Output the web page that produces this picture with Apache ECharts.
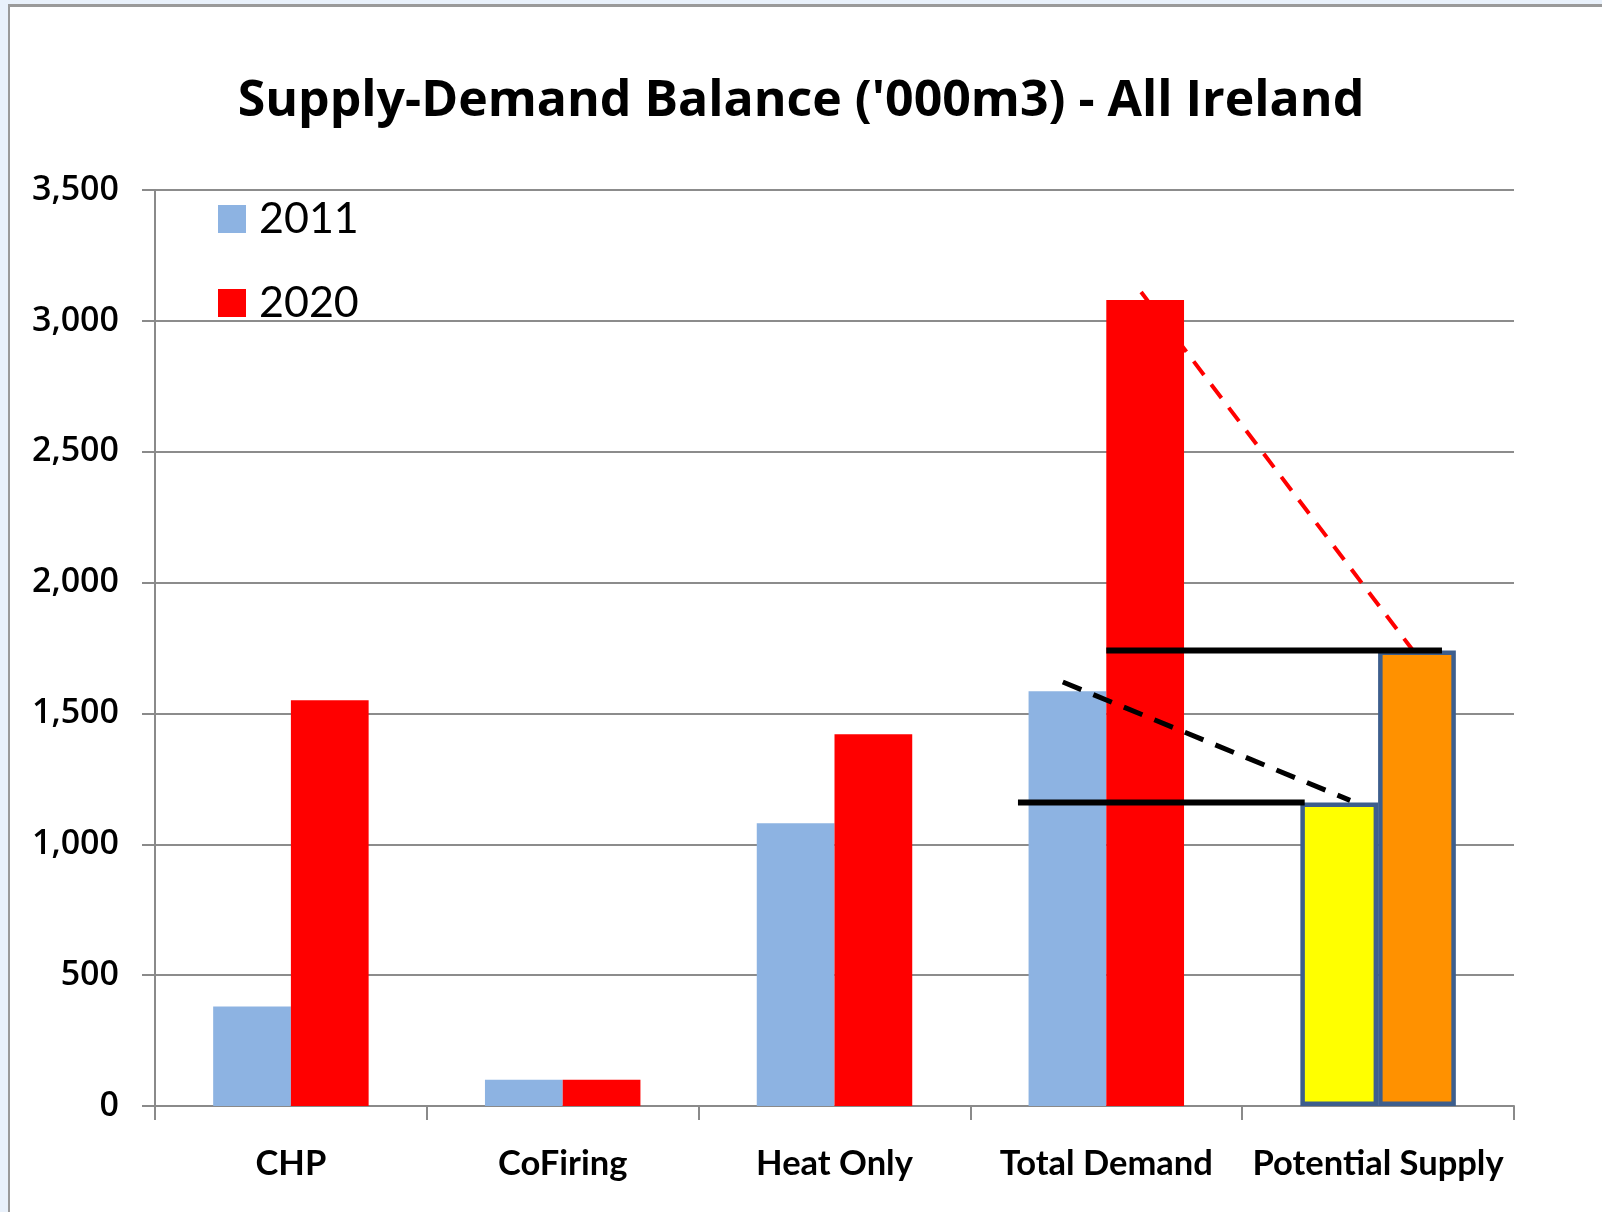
<!DOCTYPE html>
<html>
<head>
<meta charset="utf-8">
<script src="https://cdn.jsdelivr.net/npm/echarts@6/dist/echarts.min.js"></script>
<style>
  html, body { margin: 0; padding: 0; width: 1602px; height: 1212px; background: #E9F1FB; overflow: hidden; }
  #frame { position: absolute; left: 8px; top: 4px; right: 0; bottom: 0; background: #ffffff;
           border-left: 2px solid #9a9a9a; border-top: 3px solid #9a9a9a; }
  #chart { position: absolute; left: 0; top: 0; width: 1602px; height: 1212px; }
</style>
</head>
<body>
<div id="frame"></div>
<div id="chart"></div>
<script>
// ---- data ----
const categories = ['CHP', 'CoFiring', 'Heat Only', 'Total Demand', 'Potential Supply'];
const values2011 = [380, 100, 1080, 1585, 1160];
const values2020 = [1550, 100, 1420, 3080, 1740];
const seriesNames = ['2011', '2020'];
const yMin = 0, yMax = 3500, yStep = 500;

// annotation lines, in [category position, value] (category index units)
const supplyLowLine  = [[2.675, 1160], [3.73, 1160]];
const supplyHighLine = [[3.0, 1740], [4.235, 1740]];
const redTrend       = [[3.128, 3110], [4.125, 1745]];
const blackTrend     = [[2.84, 1620], [3.897, 1168]];

const FONT = 'Lato, "Open Sans", sans-serif';
const TITLE_FONT = '"Open Sans", Lato, sans-serif';
const supplyIndex = categories.indexOf('Potential Supply');
const supplyBorder = { borderColor: '#3D5E8D', borderWidth: 4.5 };

function buildBars(vals, supplyColor) {
  return vals.map((v, i) => i === supplyIndex
    ? { value: v, itemStyle: Object.assign({ color: supplyColor }, supplyBorder) }
    : v);
}

const chart = echarts.init(document.getElementById('chart'), null, { renderer: 'canvas' });
chart.setOption({
  backgroundColor: 'transparent',
  animation: false,
  title: {
    text: "Supply-Demand Balance ('000m3) - All Ireland",
    left: 'center', top: 72,
    textStyle: { fontFamily: TITLE_FONT, fontWeight: 'bold', fontSize: 50, color: '#000' }
  },
  legend: {
    orient: 'vertical', left: 213, top: 189,
    itemWidth: 28, itemHeight: 28, itemGap: 34,
    icon: 'rect',
    data: seriesNames,
    textStyle: { fontFamily: FONT, fontSize: 43, color: '#000', lineHeight: 50, padding: [0, 0, 0, 8] }
  },
  grid: { left: 155, right: 88, top: 190, bottom: 106, containLabel: false },
  xAxis: [{
    type: 'category', data: categories,
    axisLine: { lineStyle: { color: '#8a8a8a', width: 2 } },
    axisTick: { show: true, length: 14, lineStyle: { color: '#8a8a8a', width: 2 } },
    axisLabel: { interval: 0, fontFamily: FONT, fontWeight: 'bold', fontSize: 34.5, color: '#000', margin: 40 }
  }, {
    type: 'value', min: -0.5, max: 4.5, show: false
  }],
  yAxis: {
    type: 'value', min: yMin, max: yMax, interval: yStep,
    axisLine: { show: true, onZero: false, lineStyle: { color: '#8a8a8a', width: 2 } },
    axisTick: { show: true, length: 13, lineStyle: { color: '#8a8a8a', width: 2 } },
    splitLine: { lineStyle: { color: '#8c8c8c', width: 2 } },
    axisLabel: { fontFamily: TITLE_FONT, fontWeight: 600, fontSize: 34, color: '#000', margin: 36 }
  },
  series: [
    { name: seriesNames[0], type: 'bar', xAxisIndex: 0, barWidth: '28.6%', barGap: '0%',
      itemStyle: { color: '#8DB3E2' }, data: buildBars(values2011, '#FFFF00'), z: 2 },
    { name: seriesNames[1], type: 'bar', xAxisIndex: 0, barWidth: '28.6%', barGap: '0%',
      itemStyle: { color: '#FF0000' }, data: buildBars(values2020, '#FF9100'), z: 2 },
    { type: 'line', xAxisIndex: 1, symbol: 'none', data: redTrend, z: 3,
      lineStyle: { color: '#FF0000', width: 4, type: [17, 12] } },
    { type: 'line', xAxisIndex: 1, symbol: 'none', data: blackTrend, z: 4,
      lineStyle: { color: '#000000', width: 5, type: [20, 13] } },
    { type: 'line', xAxisIndex: 1, symbol: 'none', data: supplyHighLine, z: 4,
      lineStyle: { color: '#000000', width: 6 } },
    { type: 'line', xAxisIndex: 1, symbol: 'none', data: supplyLowLine, z: 4,
      lineStyle: { color: '#000000', width: 6 } }
  ]
});
</script>
</body>
</html>
